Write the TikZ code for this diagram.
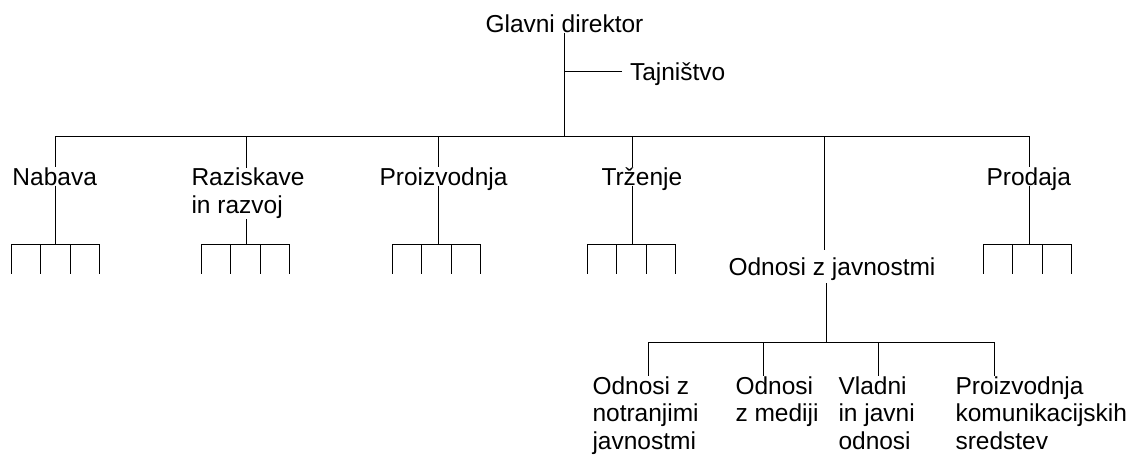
\documentclass[tikz,border=0pt]{standalone}
\usepackage{fontspec}
\setmainfont{Liberation Sans}

\begin{document}
\begin{tikzpicture}[
  x=1pt, y=-1pt,
  line width=1pt,
  unit/.style={font=\fontsize{24.5}{27.5}\selectfont, inner sep=0pt, align=left},
  single/.style={unit, text height=17.5pt, text depth=0pt}]
  % 画布大小
  \useasboundingbox (0,0) rectangle (1133,456);
  % 总经理与秘书处
  \node[single, anchor=base west] (gd) at (485,32) {Glavni direktor};
  \node[single, anchor=base west, outer xsep=8pt] (taj) at (622,80) {Tajništvo};
  \coordinate (bus) at (564,136);
  \draw (gd.south -| bus) -- (bus);
  \draw (taj.west) -- (taj.west -| bus);

  % 各部门
  \node[single, anchor=base west] (nab) at (12,185) {Nabava};
  \node[unit, anchor=north west] (raz) at (191,167.5) {Raziskave\\in razvoj};
  \node[single, anchor=base west] (pro) at (379,185) {Proizvodnja};
  \node[single, anchor=base west] (trz) at (601,185) {Trženje};
  \node[single, anchor=base west] (prd) at (986,185) {Prodaja};
  \node[single, anchor=base west, outer ysep=8pt] (odj) at (728,275) {Odnosi z javnostmi};

  % 部门连线及下属单位
  \foreach \n/\x/\g in {nab/55/11, raz/246/201, pro/438/392, trz/632/587, prd/1029/983}{
    \coordinate (\n-t) at (\x,136);
    \coordinate (\n-b) at (\x,244);
    \draw (\n-t) -- (\n-t |- \n.north);
    \draw (\n.south -| \n-b) -- (\n-b);
    \foreach \k in {0,...,3}{
      \coordinate (\n-\k) at (\g+29.5*\k,274);
      \draw (\n-b) -| (\n-\k);
    }
  }
  \draw (nab-t) -- (prd-t);
  \coordinate (odj-t) at (824,136);
  \draw (odj-t) -- (odj-t |- odj.north);

  % 公共关系下属
  \node[unit, anchor=north west] (s1) at (592,376) {Odnosi z\\notranjimi\\javnostmi};
  \node[unit, anchor=north west] (s2) at (735,376) {Odnosi\\z mediji};
  \node[unit, anchor=north west] (s3) at (838,376) {Vladni\\in javni\\odnosi};
  \node[unit, anchor=north west] (s4) at (955,376) {Proizvodnja\\komunikacijskih\\sredstev};
  \coordinate (odj-b) at (826,342);
  \draw (odj.south -| odj-b) -- (odj-b);
  \foreach \s/\x in {s1/648, s2/763, s3/878, s4/994}{
    \coordinate (\s-t) at (\x,342);
    \draw (odj-b) -| (\s-t |- \s.north);
  }
\end{tikzpicture}
\end{document}
